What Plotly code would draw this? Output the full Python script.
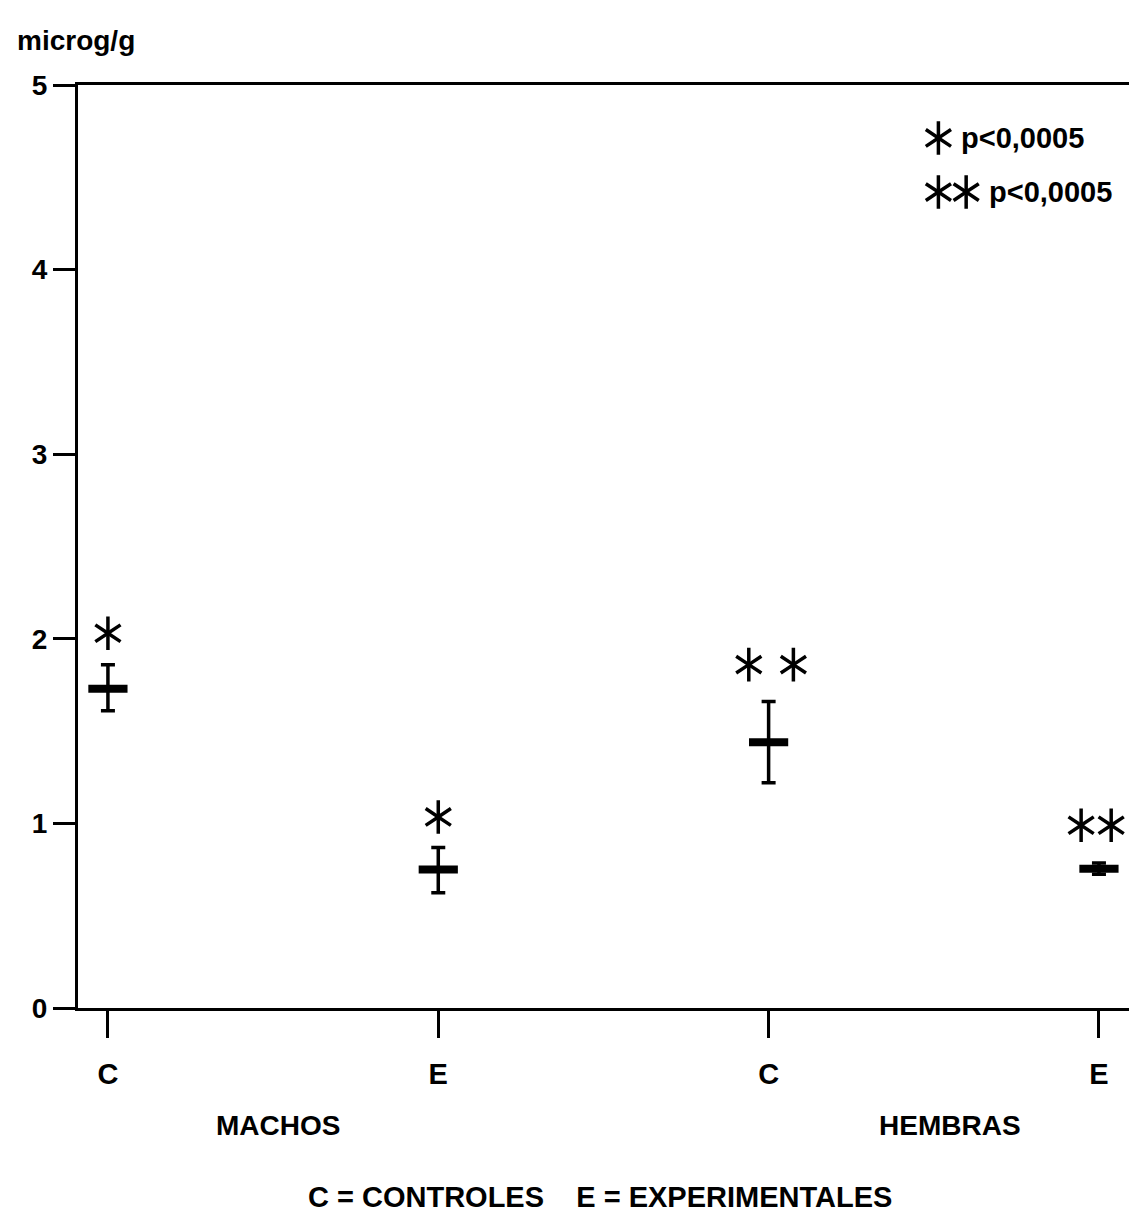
import plotly.graph_objects as go

# ---- data ----
positions = [0, 1, 2, 3]
tick_labels = ["C", "E", "C", "E"]
means = [1.73, 0.75, 1.44, 0.755]
err_plus = [0.13, 0.12, 0.22, 0.03]
err_minus = [0.12, 0.125, 0.22, 0.03]

star_x = [0, 1, 1.94, 2.075, 2.946, 3.037]
star_y = [2.03, 1.035, 1.86, 1.86, 0.99, 0.99]

legend_star_x = [2.514, 2.514, 2.598]
legend_star_y = [4.713, 4.42, 4.42]
legend_text_x = [2.575, 2.66]
legend_text_y = [4.713, 4.42]
legend_texts = ["p<0,0005", "p<0,0005"]

group_labels = ["MACHOS", "HEMBRAS"]
group_x = [0.516, 2.55]

FONT = "Liberation Sans Narrow, Liberation Sans, Arial"

fig = go.Figure()

fig.add_trace(go.Scatter(
    x=positions, y=means, mode="markers",
    marker=dict(symbol="line-ew-open", size=28, color="black",
                line=dict(width=8, color="black")),
    error_y=dict(type="data", symmetric=False, array=err_plus,
                 arrayminus=err_minus, color="black", thickness=3.5, width=7),
    showlegend=False, hoverinfo="skip"))

for sym in ["y-up-open", "y-down-open"]:
    fig.add_trace(go.Scatter(
        x=star_x + legend_star_x, y=star_y + legend_star_y, mode="markers",
        marker=dict(symbol=sym, size=21, color="black",
                    line=dict(width=3.5, color="black")),
        showlegend=False, hoverinfo="skip"))

for tx, ty, tt in zip(legend_text_x, legend_text_y, legend_texts):
    fig.add_annotation(x=tx, y=ty, xref="x", yref="y", text=tt, showarrow=False,
                       xanchor="left", yanchor="middle",
                       font=dict(family=FONT, size=29, color="black", weight="bold"))

for gl, gx in zip(group_labels, group_x):
    fig.add_annotation(x=gx, y=-0.127, xref="x", yref="paper", text=gl,
                       showarrow=False, xanchor="center", yanchor="middle",
                       font=dict(family=FONT, size=28, color="black", weight="bold"))

fig.add_annotation(x=0.496, y=-0.205, xref="paper", yref="paper",
                   text="C = CONTROLES &nbsp;&nbsp;&nbsp;E = EXPERIMENTALES",
                   showarrow=False, xanchor="center", yanchor="middle",
                   font=dict(family=FONT, size=29, color="black", weight="bold"))

fig.add_annotation(x=-0.0597, y=1.048, xref="paper", yref="paper", text="microg/g",
                   showarrow=False, xanchor="left", yanchor="middle",
                   font=dict(family=FONT, size=28, color="black", weight="bold"))

fig.update_xaxes(range=[-0.0906, 3.097], tickmode="array", tickvals=positions,
                 ticktext=tick_labels, ticks="outside", ticklen=27, tickwidth=3,
                 tickcolor="black", ticklabelstandoff=11,
                 showline=True, linewidth=3, linecolor="black", mirror=True,
                 showgrid=False, zeroline=False,
                 tickfont=dict(family=FONT, size=29, color="black", weight="bold"))
fig.update_yaxes(range=[0, 5], tickmode="array", tickvals=[0, 1, 2, 3, 4, 5],
                 ticks="outside", ticklen=22, tickwidth=3, tickcolor="black",
                 showline=True, linewidth=3, linecolor="black", mirror=True,
                 showgrid=False, zeroline=False,
                 tickfont=dict(family=FONT, size=28, color="black", weight="bold"))

fig.update_layout(width=1129, height=1209,
                  margin=dict(l=70, r=3, t=77, b=209),
                  plot_bgcolor="white", paper_bgcolor="white")

fig.write_html("out.html")
